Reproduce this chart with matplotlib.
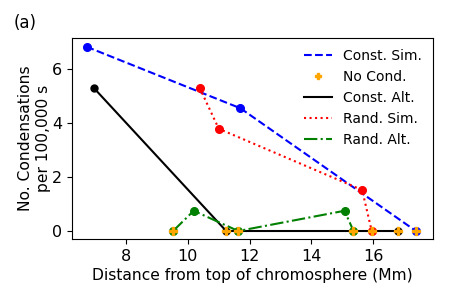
import matplotlib
matplotlib.use("Agg")
import matplotlib.pyplot as plt
from matplotlib.lines import Line2D

const_sim_x = [6.72, 11.70, 17.38]
const_sim_y = [6.83, 4.55, 0.0]

const_alt_x = [6.95, 11.24, 16.80]
const_alt_y = [5.31, 0.0, 0.0]

rand_sim_x = [10.38, 11.00, 15.64, 15.95]
rand_sim_y = [5.31, 3.79, 1.52, 0.0]

rand_alt_x = [9.52, 10.19, 11.63, 15.07, 15.36]
rand_alt_y = [0.0, 0.75, 0.0, 0.75, 0.0]

nocond_x = [9.52, 11.24, 11.63, 15.36, 15.95, 16.80, 17.38]
nocond_y = [0, 0, 0, 0, 0, 0, 0]

labels = ['Const. Sim.', 'No Cond.', 'Const. Alt.', 'Rand. Sim.', 'Rand. Alt.']

fig = plt.figure(figsize=(4.5, 3), dpi=100)
ax = fig.add_axes([0.16, 0.203, 0.802, 0.67])

ax.plot(const_sim_x, const_sim_y, '--', color='blue', lw=1.5)
ax.plot(const_sim_x, const_sim_y, 'o', color='blue', ms=5.5)
ax.plot(const_alt_x, const_alt_y, '-', color='black', lw=1.5)
ax.plot(const_alt_x, const_alt_y, 'o', color='black', ms=5)
ax.plot(rand_sim_x, rand_sim_y, ':', color='red', lw=1.5)
ax.plot(rand_sim_x, rand_sim_y, 'o', color='red', ms=5.5)
ax.plot(rand_alt_x, rand_alt_y, '-.', color='green', lw=1.5)
ax.plot(rand_alt_x, rand_alt_y, 'o', color='green', ms=5.5)
ax.plot(nocond_x, nocond_y, 'P', color='orange', ms=6, ls='none', zorder=5)

handles = [
    Line2D([], [], ls='--', color='blue', lw=1.5),
    Line2D([], [], ls='none', marker='P', color='orange', ms=5),
    Line2D([], [], ls='-', color='black', lw=1.5),
    Line2D([], [], ls=':', color='red', lw=1.5),
    Line2D([], [], ls='-.', color='green', lw=1.5),
]
ax.legend(handles, labels, loc='upper right', frameon=False, fontsize=10,
          borderaxespad=0.4, labelspacing=0.5)

ax.set_xlim(6.25, 17.93)
ax.set_ylim(-0.3, 7.15)
ax.set_xticks([8, 10, 12, 14, 16])
ax.set_yticks([0, 2, 4, 6])
ax.tick_params(labelsize=11.5)
ax.set_xlabel('Distance from top of chromosphere (Mm)', fontsize=11.2, labelpad=3)
ax.set_ylabel('No. Condensations\nper 100,000 s', fontsize=11.2, labelpad=1)
fig.text(0.03, 0.905, '(a)', fontsize=12)

fig.savefig('out.png', dpi=100)
